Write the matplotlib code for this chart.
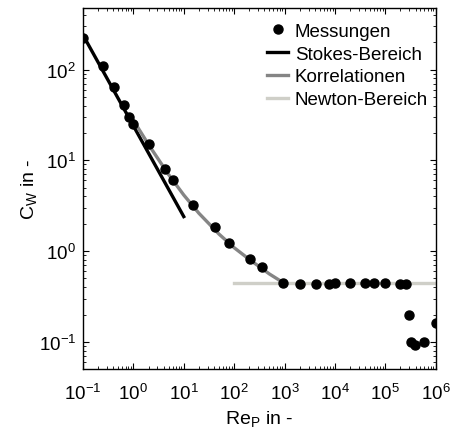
import matplotlib
matplotlib.use("Agg")
import matplotlib.pyplot as plt
from matplotlib.ticker import LogLocator, NullFormatter

plt.rcParams["font.family"] = ["Liberation Sans", "DejaVu Sans"]
plt.rcParams["mathtext.default"] = "regular"

# Messungen
re_mess = [0.1, 0.25, 0.41, 0.65, 0.81, 1.0, 2.0, 4.2, 6.2, 15.5, 42, 79, 205, 355, 950,
           2000, 4200, 7800, 10200, 20000, 40000, 60000, 1e5, 2e5, 2.6e5,
           3e5, 3.2e5, 3.9e5, 6e5, 1e6]
cw_mess = [224, 110, 65, 41, 30, 25, 15, 8.0, 6.0, 3.2, 1.84, 1.22, 0.82, 0.67, 0.44,
           0.43, 0.43, 0.43, 0.44, 0.44, 0.44, 0.44, 0.44, 0.43, 0.43,
           0.20, 0.10, 0.093, 0.10, 0.16]

# Stokes-Bereich
re_stokes = [0.1, 10]
cw_stokes = [240, 2.4]

# Korrelationen
re_korr = [1, 2, 5, 10, 20, 50, 100, 200, 500, 1000]
cw_korr = [27.6, 14.9, 6.97, 4.15, 2.61, 1.54, 1.09, 0.81, 0.56, 0.44]

# Newton-Bereich
re_newton = [100, 1e6]
cw_newton = [0.44, 0.44]

fig = plt.figure(figsize=(4.51, 4.35), dpi=100)
ax = fig.add_axes([0.184, 0.149, 0.782, 0.831])

ax.plot(re_mess, cw_mess, "o", color="black", markersize=6.5, label="Messungen", zorder=5)
ax.plot(re_stokes, cw_stokes, "-", color="black", lw=2.4, label="Stokes-Bereich")
ax.plot(re_korr, cw_korr, "-", color="#858585", lw=2.4, label="Korrelationen")
ax.plot(re_newton, cw_newton, "-", color="#cfcfc8", lw=2.4, label="Newton-Bereich", zorder=1)

ax.set_xscale("log")
ax.set_yscale("log")
ax.set_xlim(1e-1, 1e6)
ax.set_ylim(0.05, 480)

ax.xaxis.set_major_locator(LogLocator(base=10, numticks=20))
ax.yaxis.set_major_locator(LogLocator(base=10, numticks=20))
ax.xaxis.set_minor_locator(LogLocator(base=10, subs=range(2, 10), numticks=20))
ax.yaxis.set_minor_locator(LogLocator(base=10, subs=range(2, 10), numticks=20))
ax.xaxis.set_minor_formatter(NullFormatter())
ax.yaxis.set_minor_formatter(NullFormatter())

ax.tick_params(which="both", direction="in", top=True, right=True, labelsize=13.5)
ax.tick_params(axis="x", which="major", pad=10)
ax.tick_params(axis="y", which="major", pad=5)
ax.tick_params(which="major", length=4)
ax.tick_params(which="minor", length=2)
for s in ax.spines.values():
    s.set_linewidth(1.0)

ax.set_xlabel("Re$_P$ in -", fontsize=14, labelpad=3.5)
ax.set_ylabel("C$_W$ in -", fontsize=14, labelpad=0)

ax.legend(loc="upper right", bbox_to_anchor=(1.0, 0.979), frameon=False,
          fontsize=13.5, handlelength=1.1, handletextpad=0.37, labelspacing=0.3,
          borderaxespad=0.0, borderpad=0.4, markerscale=1.0)

fig.savefig("out.png", dpi=100)
